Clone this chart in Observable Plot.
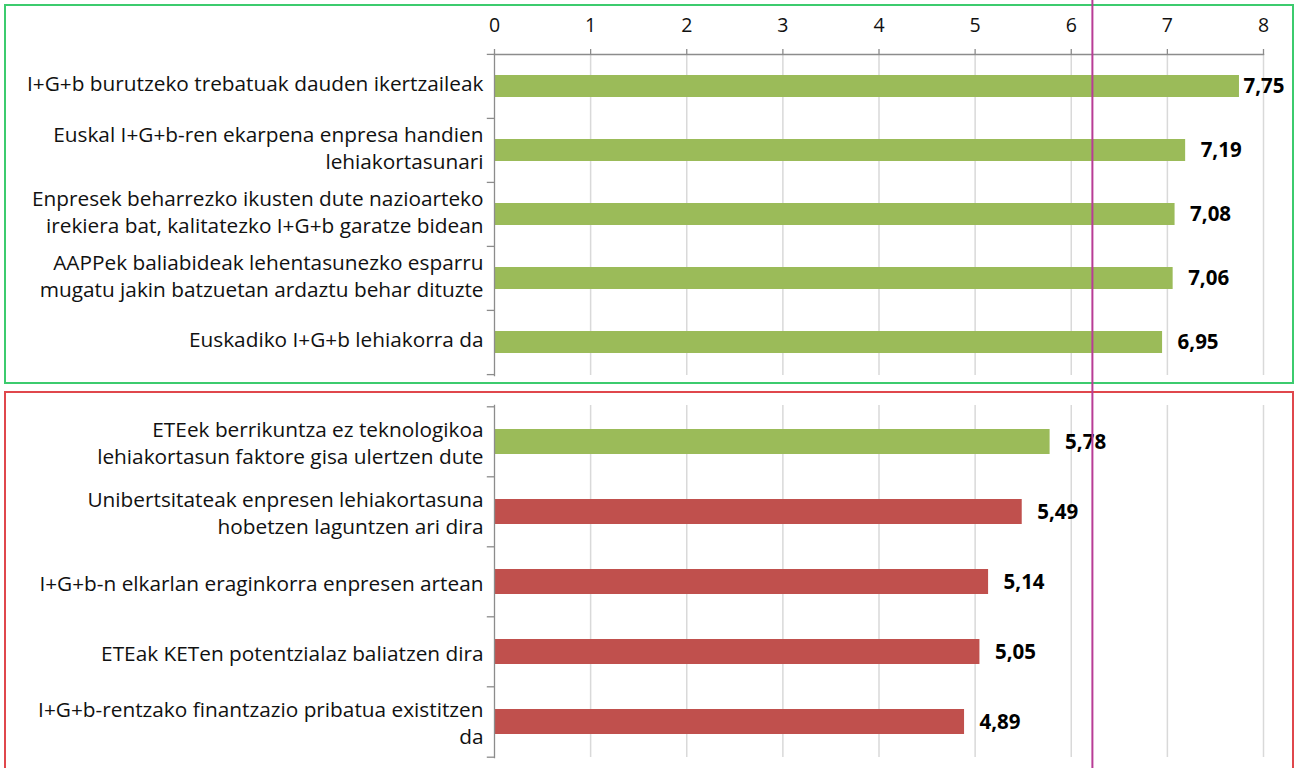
<!DOCTYPE html>
<html>
<head>
<meta charset="utf-8">
<script src="https://cdn.jsdelivr.net/npm/d3@7"></script>
<script src="https://cdn.jsdelivr.net/npm/@observablehq/plot@0.6"></script>
<style>
  html, body { margin: 0; padding: 0; background: #fff; overflow: hidden; }
  #wrap { position: relative; width: 1297px; height: 768px; font-family: "Open Sans", Lato, sans-serif; }
  .box { position: absolute; box-sizing: border-box; }
  #boxTop { left: 4px; top: 4px; width: 1290px; height: 380px; border: 2px solid #3ccb6e; }
  #boxBottom { left: 4px; top: 391px; width: 1290px; height: 400px; border: 2px solid #e0474c; }
  .layer { position: absolute; left: 0; }
  #overlay { pointer-events: none; }
</style>
</head>
<body>
<div id="wrap">
  <div class="box" id="boxTop"></div>
  <div class="box" id="boxBottom"></div>
  <div class="layer" id="top" style="top:0"></div>
  <div class="layer" id="bottom" style="top:384px"></div>
  <div class="layer" id="overlay" style="top:0"></div>
</div>
<script>
// ---- data ----
const topLabels = [
  "I+G+b burutzeko trebatuak dauden ikertzaileak",
  "Euskal I+G+b-ren ekarpena enpresa handien\nlehiakortasunari",
  "Enpresek beharrezko ikusten dute nazioarteko\nirekiera bat, kalitatezko I+G+b garatze bidean",
  "AAPPek baliabideak lehentasunezko esparru\nmugatu jakin batzuetan ardaztu behar dituzte",
  "Euskadiko I+G+b lehiakorra da"
];
const topValues = [7.75, 7.19, 7.08, 7.06, 6.95];
const topStatus = ["strong", "strong", "strong", "strong", "strong"];

const bottomLabels = [
  "ETEek berrikuntza ez teknologikoa\nlehiakortasun faktore gisa ulertzen dute",
  "Unibertsitateak enpresen lehiakortasuna\nhobetzen laguntzen ari dira",
  "I+G+b-n elkarlan eraginkorra enpresen artean",
  "ETEak KETen potentzialaz baliatzen dira",
  "I+G+b-rentzako finantzazio pribatua existitzen\nda"
];
const bottomValues = [5.78, 5.49, 5.14, 5.05, 4.89];
const bottomStatus = ["strong", "weak", "weak", "weak", "weak"];

const xTicks = [0, 1, 2, 3, 4, 5, 6, 7, 8];
const referenceValue = 6.22;

// ---- styling ----
const W = 1297;
const ML = 494, MR = 34;
const FONT = "'Open Sans', Lato, sans-serif";
const statusColors = {domain: ["strong", "weak"], range: ["#9bbb59", "#c0504d"]};
const fmt = v => v.toFixed(2).replace(".", ",");

function panel({labels, values, status, height, marginTop, marginBottom, showAxis, labelDy, lineHeight}) {
  const rows = labels.map((label, i) => ({label, value: values[i], status: status[i]}));
  const step = (height - marginTop - marginBottom) / labels.length;
  const marks = [
    Plot.gridX(xTicks.filter(d => d > 0), {stroke: "#d9d9d9", strokeOpacity: 1, strokeWidth: 1.5}),
    Plot.barX(rows, {x: "value", y: "label", fill: "status"}),
    Plot.frame({anchor: "left", stroke: "#8c8c8c", strokeWidth: 1.3}),
    // category boundary ticks on the left axis
    Plot.ruleY(labels, {y: d => d, x1: -0.075, x2: 0, dy: -step / 2, stroke: "#8c8c8c", strokeWidth: 1.3, clip: false}),
    Plot.ruleY(labels.slice(-1), {y: d => d, x1: -0.075, x2: 0, dy: step / 2, stroke: "#8c8c8c", strokeWidth: 1.3, clip: false}),
    // category labels
    Plot.text(rows, {x: 0, y: "label", text: "label", dx: -11, dy: labelDy, textAnchor: "end", fontSize: 20.8, lineHeight, fill: "#111"}),
    // value labels
    Plot.text(rows.filter(d => d.value < 7.5), {x: "value", y: "label", text: d => fmt(d.value), dx: 15, textAnchor: "start", fontSize: 20.5, fontWeight: "bold", fill: "#000"}),
    Plot.text(rows.filter(d => d.value >= 7.5), {x: "value", y: "label", text: d => fmt(d.value), dx: 4, textAnchor: "start", fontSize: 20.5, fontWeight: "bold", fill: "#000"})
  ];
  if (showAxis) {
    marks.push(
      Plot.frame({anchor: "top", stroke: "#8c8c8c", strokeWidth: 1.3}),
      Plot.axisX({anchor: "top", ticks: xTicks, tickSize: 6, tickPadding: 17, stroke: "#8c8c8c", strokeWidth: 1.3, fontSize: 19.5, fill: "#111", label: null, tickFormat: d => String(d)})
    );
  }
  return Plot.plot({
    width: W,
    height,
    marginLeft: ML,
    marginRight: MR,
    marginTop,
    marginBottom,
    style: {fontFamily: FONT, background: "transparent", overflow: "visible"},
    x: {domain: [0, 8], axis: null},
    y: {domain: labels, type: "band", paddingInner: 0.65, paddingOuter: 0.325, axis: null},
    color: statusColors,
    marks
  });
}

document.getElementById("top").append(panel({
  labels: topLabels, values: topValues, status: topStatus,
  height: 384, marginTop: 54, marginBottom: 9, showAxis: true, labelDy: -4, lineHeight: 1.3
}));

document.getElementById("bottom").append(panel({
  labels: bottomLabels, values: bottomValues, status: bottomStatus,
  height: 384, marginTop: 21, marginBottom: 11, showAxis: false, labelDy: 0, lineHeight: 1.3
}));

document.getElementById("overlay").append(Plot.plot({
  width: W,
  height: 768,
  marginLeft: ML,
  marginRight: MR,
  marginTop: 0,
  marginBottom: 0,
  style: {background: "transparent"},
  x: {domain: [0, 8], axis: null},
  marks: [Plot.ruleX([referenceValue], {stroke: "#b83c96", strokeWidth: 2})]
}));
</script>
</body>
</html>
